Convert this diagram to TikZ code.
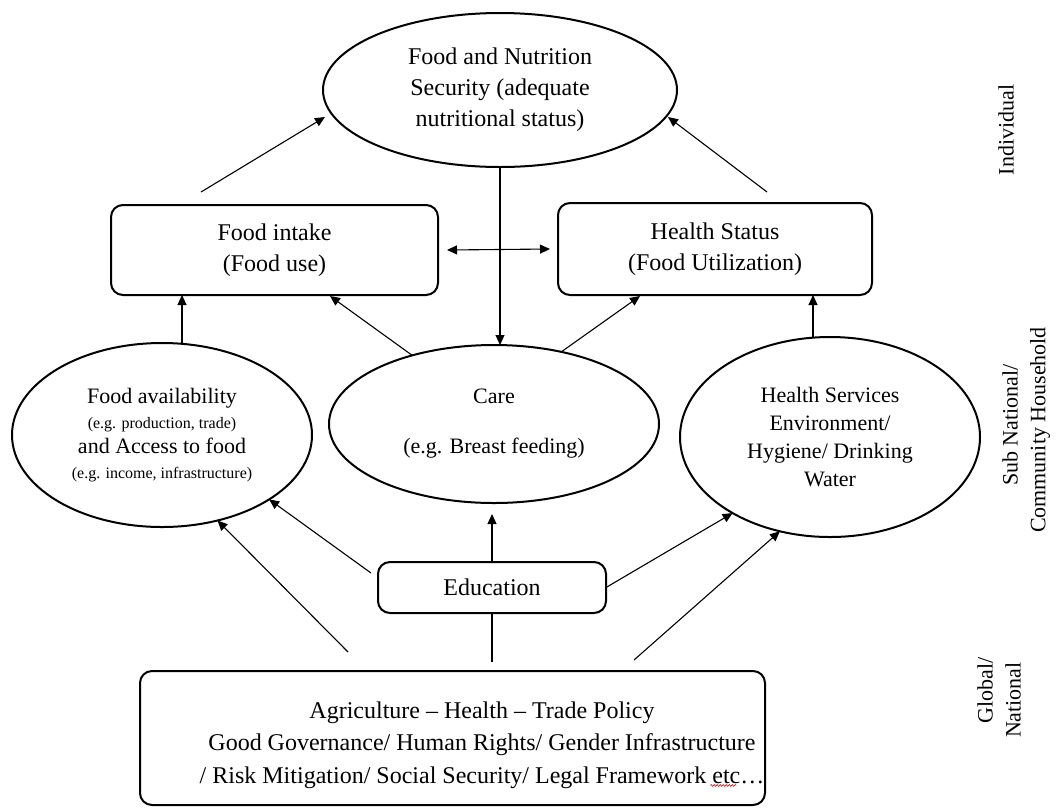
\documentclass[tikz,border=0pt]{standalone}
\usepackage{fontspec}
\setmainfont{Liberation Serif}
\usetikzlibrary{shapes.geometric,arrows.meta,decorations.pathmorphing}
\begin{document}
\begin{tikzpicture}[x=1pt,y=-1pt,
  every node/.style={inner sep=0pt, outer sep=0pt, align=center},
  ell/.style={draw, line width=2pt, ellipse},
  box/.style={draw, line width=2pt, rounded corners=12pt, rectangle},
  arr/.style={line width=1.1pt, -{Triangle[length=10pt,width=9pt]}},
  dbl/.style={line width=1.1pt, {Triangle[length=10pt,width=9pt]}-{Triangle[length=10pt,width=9pt]}},
  ln/.style={line width=1.1pt},
  big/.style={font=\fontsize{24}{31}\selectfont},
  mid/.style={font=\fontsize{22}{28}\selectfont},
  side/.style={font=\fontsize{22}{28}\selectfont, rotate=90},
]
\useasboundingbox (0,0) rectangle (1056,807);

% nodes
\node[ell, big, minimum width=354, minimum height=154] (fns) at (500,90)
  {Food and Nutrition\\Security (adequate\\nutritional status)};
\node[box, big, minimum width=327, minimum height=90] (fi) at (274.5,250)
  {Food intake\\(Food use)};
\node[box, big, minimum width=314, minimum height=92] (hs) at (715,249)
  {Health Status\\(Food Utilization)};
\node[ell, font=\fontsize{22}{25}\selectfont, minimum width=300, minimum height=184] (fa) at (162,435)
  {Food availability\\{\fontsize{16}{19}\selectfont (e.g. production, trade)}\\and Access to food\\{\fontsize{16}{19}\selectfont (e.g. income, infrastructure)}};
\node[ell, mid, minimum width=330, minimum height=158] (care) at (494,424)
  {Care\\[22pt](e.g. Breast feeding)};
\node[ell, mid, minimum width=300, minimum height=200] (hsv) at (830,437)
  {Health Services\\Environment/\\Hygiene/ Drinking\\Water};
\node[box, big, minimum width=228, minimum height=51] (edu) at (492,587.5) {Education};
\node[box, minimum width=625, minimum height=134] (pol) at (452.5,738) {};
\node[font=\fontsize{24}{32.5}\selectfont] (polt) at (482,745)
  {Agriculture -- Health -- Trade Policy\\Good Governance/ Human Rights/ Gender Infrastructure\\/ Risk Mitigation/ Social Security/ Legal Framework etc\dots};

% side labels
\node[side] (ind) at (1006,130) {Individual};
\node[side] (sub) at (1010,425) {Sub National/};
\node[side] (com) at (1040,430) {Community Household};
\node[side] (glo) at (985,690) {Global/};
\node[side] (nat) at (1013,700) {National};

% free ends
\coordinate (s1) at ([shift={(-73.5pt,13pt)}]fi.north);
\coordinate (s2) at ([shift={(52pt,11pt)}]hs.north);
\coordinate (s5) at ([xshift=20pt]fa.north);
\coordinate (s8) at ([xshift=-17pt]hsv.north);
\coordinate (s9) at ([shift={(-104.5pt,19pt)}]pol.north);
\coordinate (s10) at ([shift={(-7pt,14.5pt)}]edu.west);
\coordinate (s13) at ([shift={(181.5pt,11pt)}]pol.north);
\coordinate (t11) at ([yshift=-11pt]care.south);
\coordinate (t14) at ([yshift=9pt]pol.north);

% connectors
\draw[arr] (s1) -- ([shift={(2pt,-27pt)}]fns.west);
\draw[arr] (s2) -- ([shift={(-9pt,-27pt)}]fns.east);
\draw[arr] (fns.south) -- (fns.south |- care.north);
\draw[dbl] ([xshift=9pt]fi.east) -- ([xshift=-8pt]hs.west);
\draw[arr] (s5) -- (s5 |- fi.south);
\draw[arr] (care.140) -- ([shift={(55.5pt,-1pt)}]fi.south);
\draw[arr] (care.47) -- ([shift={(-75pt,-1pt)}]hs.south);
\draw[arr] (s8) -- (s8 |- hs.south);
\draw[arr] (s9) -- (fa.303);
\draw[arr] (s10) -- (fa.329);
\draw[arr] (edu.north) -- (edu.north |- t11);
\draw[arr] (edu.east) -- (hsv.218);
\draw[arr] (s13) -- (hsv.242);
\draw[ln] (edu.south) -- (edu.south |- t14);

% spell-check squiggle under "etc"
\coordinate (sq1) at ([shift={(-54pt,3pt)}]polt.south east);
\coordinate (sq2) at ([shift={(-28pt,3pt)}]polt.south east);
\draw[red, line width=0.6pt, decorate, decoration={snake, amplitude=0.9pt, segment length=3pt}] (sq1) -- (sq2);
\end{tikzpicture}
\end{document}
